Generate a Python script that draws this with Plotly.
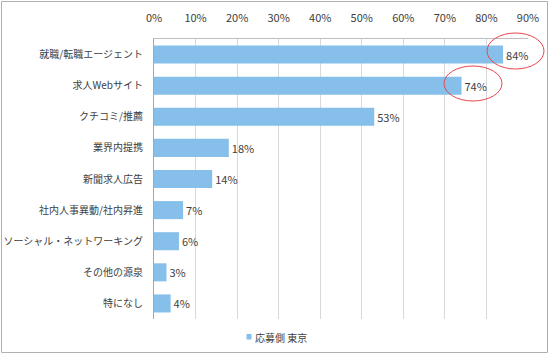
import plotly.graph_objects as go

categories = ["就職/転職エージェント", "求人Webサイト", "クチコミ/推薦", "業界内提携", "新聞求人広告",
              "社内人事異動/社内昇進", "ソーシャル・ネットワーキング", "その他の源泉", "特になし"]
values = [84, 74, 53, 18, 14, 7, 6, 3, 4]
series_name = "応募側 東京"
tick_vals = [0, 10, 20, 30, 40, 50, 60, 70, 80, 90]
tick_text = [f"{v}%" for v in tick_vals]

font = "Noto Sans CJK JP, Noto Sans, sans-serif"
bar_color = "#85BFEA"

fig = go.Figure()
fig.add_trace(go.Bar(
    y=categories, x=values, orientation="h", name=series_name,
    marker=dict(color=bar_color, line=dict(width=0)),
    text=[f"{v}%" for v in values], textposition="outside",
    textfont=dict(size=11, color="#404040", family=font),
    cliponaxis=False, showlegend=False,
))

def px2x(px):
    return (px - 154) / 374

def px2y(py):
    return (319 - py) / 280

shapes = [
    dict(type="rect", xref="paper", yref="paper",
         x0=px2x(1.5), x1=px2x(547.5), y0=px2y(1.5), y1=px2y(352.5),
         line=dict(color="#B0B0B0", width=1), fillcolor="rgba(0,0,0,0)", layer="below"),
    dict(type="circle", xref="paper", yref="paper",
         x0=px2x(487), x1=px2x(544), y0=px2y(69), y1=px2y(33),
         line=dict(color="#E8474E", width=1)),
    dict(type="circle", xref="paper", yref="paper",
         x0=px2x(444), x1=px2x(502), y0=px2y(101), y1=px2y(66),
         line=dict(color="#E8474E", width=1)),
    # legend swatch
    dict(type="rect", xref="paper", yref="paper",
         x0=px2x(246.5), x1=px2x(251.5), y0=px2y(339.5), y1=px2y(334),
         line=dict(width=0), fillcolor=bar_color),
]

annotations = [
    dict(text=series_name, xref="paper", yref="paper", x=px2x(253), y=px2y(337.5),
         xanchor="left", yanchor="middle", showarrow=False,
         font=dict(size=10, color="#404040", family=font)),
]

fig.update_layout(
    width=550, height=355,
    margin=dict(l=154, r=22, t=39, b=36, autoexpand=False),
    paper_bgcolor="white", plot_bgcolor="white",
    font=dict(family=font, size=11, color="#404040"),
    bargap=0.42,
    shapes=shapes,
    annotations=annotations,
    showlegend=False,
    xaxis=dict(range=[0, 90], side="top", tickvals=tick_vals, ticktext=tick_text,
               showgrid=True, gridcolor="#D9D9D9", gridwidth=1, automargin=False,
               showline=True, linecolor="#BFBFBF", ticks="", zeroline=False,
               ticklabelstandoff=12,
               tickfont=dict(size=11, color="#404040")),
    yaxis=dict(autorange="reversed", showline=True, linecolor="#A6A6A6", ticks="",
               automargin=False, ticklabelstandoff=8,
               tickfont=dict(size=10, color="#404040"), showgrid=False),
)

fig.write_html("out.html", config={"displayModeBar": False},
               post_script="document.body.style.margin='0';")
